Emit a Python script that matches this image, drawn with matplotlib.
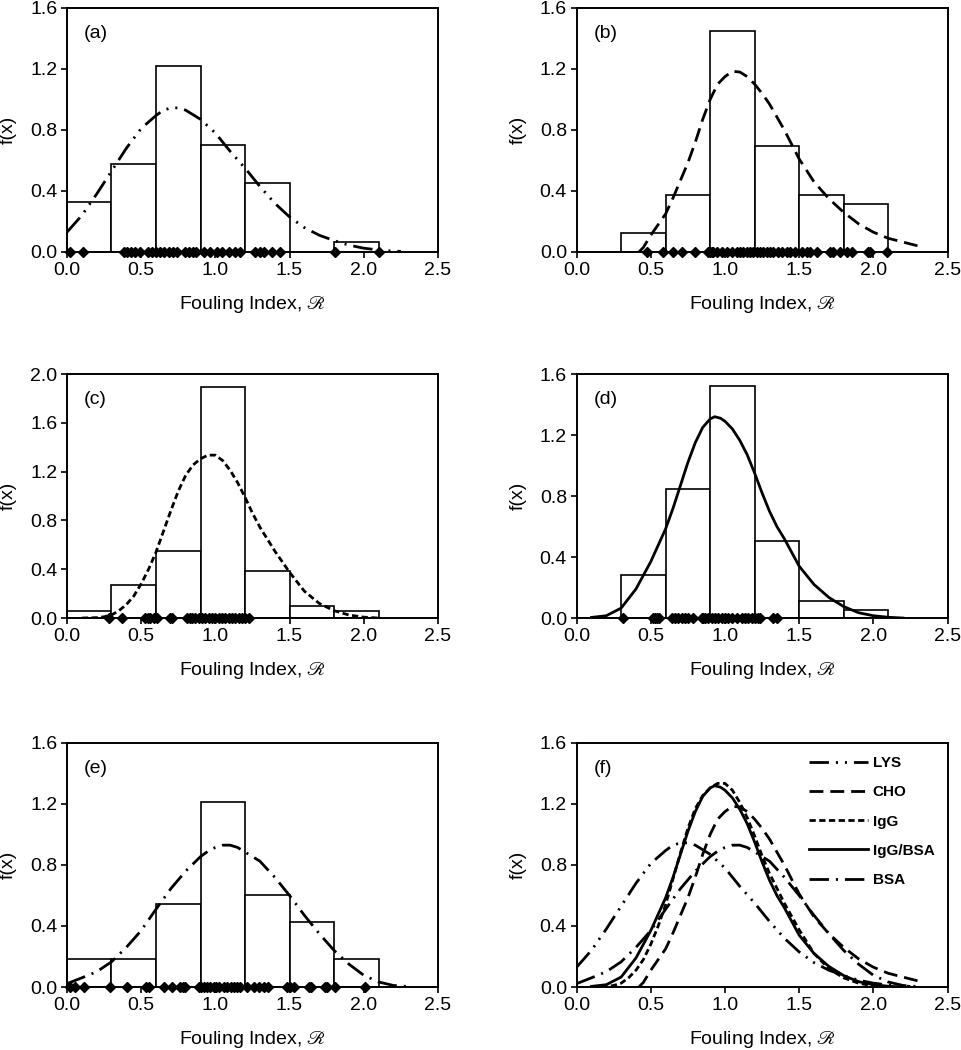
import matplotlib
matplotlib.use("Agg")
import matplotlib.pyplot as plt

plt.rcParams['font.family'] = ['Liberation Sans', 'DejaVu Sans']
plt.rcParams['mathtext.fontset'] = 'stix'
plt.rcParams['lines.scale_dashes'] = False

# histogram bins (density), same edges in every panel
bin_left = [0.0, 0.3, 0.6, 0.9, 1.2, 1.5, 1.8]
bin_width = 0.3

hist_a = [0.325, 0.579, 1.221, 0.704, 0.45, 0.0, 0.066]
hist_b = [0.0, 0.125, 0.377, 1.45, 0.695, 0.377, 0.318]
hist_c = [0.055, 0.274, 0.553, 1.89, 0.384, 0.10, 0.055]
hist_d = [0.0, 0.28, 0.844, 1.524, 0.502, 0.11, 0.05]
hist_e = [0.186, 0.186, 0.544, 1.213, 0.60, 0.425, 0.186]

# fitted density curves
lys_x = [0.0, 0.1, 0.2, 0.3, 0.4, 0.5, 0.6, 0.65, 0.7, 0.75, 0.8, 0.9, 1.0,
         1.1, 1.2, 1.3, 1.4, 1.5, 1.6, 1.7, 1.8, 1.9, 2.0, 2.1, 2.2, 2.25]
lys_y = [0.13, 0.24, 0.38, 0.53, 0.68, 0.81, 0.895, 0.93, 0.945, 0.945, 0.93,
         0.87, 0.78, 0.66, 0.55, 0.43, 0.32, 0.23, 0.16, 0.11, 0.075, 0.045,
         0.025, 0.013, 0.006, 0.004]

cho_x = [0.42, 0.45, 0.5, 0.55, 0.6, 0.65, 0.7, 0.75, 0.8, 0.85, 0.9, 0.95,
         1.0, 1.05, 1.1, 1.15, 1.2, 1.25, 1.3, 1.4, 1.5, 1.6, 1.7, 1.8, 1.9,
         2.0, 2.1, 2.2, 2.3]
cho_y = [0.0, 0.03, 0.11, 0.18, 0.25, 0.355, 0.47, 0.585, 0.72, 0.87, 1.0,
         1.1, 1.15, 1.185, 1.18, 1.15, 1.10, 1.04, 0.97, 0.80, 0.61, 0.46,
         0.35, 0.26, 0.185, 0.13, 0.09, 0.065, 0.04]

igg_x = [0.1, 0.2, 0.25, 0.3, 0.35, 0.4, 0.45, 0.5, 0.55, 0.6, 0.65, 0.7,
         0.75, 0.8, 0.85, 0.9, 0.95, 1.0, 1.05, 1.1, 1.15, 1.2, 1.25, 1.3,
         1.4, 1.5, 1.6, 1.7, 1.8, 1.9, 2.0, 2.1]
igg_y = [0.0, 0.003, 0.01, 0.025, 0.06, 0.11, 0.18, 0.28, 0.40, 0.54, 0.71,
         0.88, 1.04, 1.17, 1.255, 1.305, 1.335, 1.335, 1.29, 1.21, 1.11, 0.99,
         0.86, 0.745, 0.55, 0.375, 0.22, 0.12, 0.06, 0.025, 0.007, 0.0]

iggbsa_x = [0.1, 0.2, 0.3, 0.4, 0.5, 0.6, 0.65, 0.7, 0.75, 0.8, 0.85, 0.9,
            0.93, 0.97, 1.0, 1.05, 1.1, 1.15, 1.2, 1.25, 1.3, 1.35, 1.4, 1.5,
            1.6, 1.7, 1.8, 1.9, 2.0, 2.1, 2.2]
iggbsa_y = [0.004, 0.015, 0.065, 0.19, 0.37, 0.585, 0.72, 0.87, 1.02, 1.15,
            1.25, 1.305, 1.32, 1.31, 1.29, 1.24, 1.165, 1.07, 0.95, 0.82, 0.70,
            0.60, 0.52, 0.34, 0.22, 0.135, 0.075, 0.035, 0.015, 0.005, 0.0]

bsa_x = [0.0, 0.1, 0.2, 0.3, 0.4, 0.5, 0.6, 0.7, 0.8, 0.9, 0.95, 1.0, 1.05,
         1.1, 1.15, 1.2, 1.3, 1.4, 1.5, 1.6, 1.7, 1.8, 1.9, 2.0, 2.1, 2.2, 2.3]
bsa_y = [0.022, 0.06, 0.10, 0.165, 0.26, 0.37, 0.51, 0.645, 0.76, 0.855, 0.89,
         0.915, 0.93, 0.93, 0.915, 0.885, 0.825, 0.72, 0.60, 0.47, 0.35, 0.24,
         0.15, 0.077, 0.033, 0.01, 0.003]

# individual fouling index values (rug at f(x)=0)
pts_a = [0.022, 0.108, 0.382, 0.404, 0.431, 0.461, 0.49, 0.544, 0.573, 0.602,
         0.629, 0.656, 0.685, 0.715, 0.742, 0.798, 0.82, 0.849, 0.872, 0.921,
         0.966, 1.011, 1.045, 1.09, 1.135, 1.169, 1.27, 1.303, 1.33, 1.382,
         1.438, 1.804, 2.101]
pts_b = [0.472, 0.585, 0.652, 0.708, 0.798, 0.888, 0.9, 0.911, 0.922, 0.944,
         0.978, 1.012, 1.045, 1.079, 1.101, 1.124, 1.146, 1.169, 1.191, 1.214,
         1.236, 1.259, 1.281, 1.304, 1.326, 1.36, 1.382, 1.416, 1.439, 1.472,
         1.517, 1.551, 1.574, 1.619, 1.709, 1.731, 1.776, 1.821, 1.855, 1.967,
         1.978, 2.09]
pts_c = [0.281, 0.371, 0.528, 0.544, 0.561, 0.584, 0.607, 0.697, 0.708, 0.809,
         0.827, 0.843, 0.865, 0.888, 0.91, 0.933, 0.955, 0.978, 1.0, 1.022,
         1.045, 1.067, 1.09, 1.112, 1.135, 1.157, 1.18, 1.202, 1.225]
pts_d = [0.315, 0.517, 0.528, 0.544, 0.557, 0.641, 0.663, 0.686, 0.708, 0.731,
         0.753, 0.787, 0.843, 0.854, 0.866, 0.888, 0.911, 0.933, 0.955, 0.978,
         1.0, 1.023, 1.045, 1.079, 1.113, 1.135, 1.158, 1.18, 1.203, 1.225,
         1.236, 1.326, 1.349]
pts_e = [0.022, 0.056, 0.112, 0.288, 0.404, 0.535, 0.551, 0.652, 0.708, 0.764,
         0.782, 0.798, 0.888, 0.903, 0.921, 0.944, 0.966, 0.989, 1.007, 1.022,
         1.056, 1.079, 1.106, 1.124, 1.146, 1.169, 1.213, 1.258, 1.292, 1.326,
         1.353, 1.483, 1.506, 1.528, 1.629, 1.645, 1.742, 1.753, 1.809, 2.011]

# line styles (dash patterns in points)
sty = {
    'LYS': (0, (14, 5, 1.5, 5, 1.5, 5)),
    'CHO': (0, (10, 5)),
    'IgG': (0, (4.5, 2.5)),
    'IgG/BSA': '-',
    'BSA': (0, (14, 5, 1.5, 5)),
}
LW = 2.0
FS = 14

fig = plt.figure(figsize=(9.61, 10.5), dpi=100)

col_left = [0.0697, 0.600]
col_w = 0.386
row_bottom = [0.760, 0.4114, 0.060]
row_h = 0.2324


def style_axes(ax, ymax):
    ax.set_xlim(0, 2.5)
    ax.set_ylim(0, ymax)
    ax.set_xticks([0.0, 0.5, 1.0, 1.5, 2.0, 2.5])
    ax.set_xticklabels(['0.0', '0.5', '1.0', '1.5', '2.0', '2.5'])
    yt = [i * 0.4 for i in range(int(round(ymax / 0.4)) + 1)]
    ax.set_yticks(yt)
    ax.set_yticklabels(['%.1f' % v for v in yt])
    ax.tick_params(direction='out', length=4, width=1.2, labelsize=FS,
                   top=False, right=False, pad=3)
    for s in ax.spines.values():
        s.set_linewidth(1.4)
    ax.set_xlabel(r'Fouling Index, $\mathscr{R}$', fontsize=FS, labelpad=11)
    ax.set_ylabel('f(x)', fontsize=FS)
    ax.yaxis.set_label_coords(-0.135, 0.5)


def hist_panel(ax, heights, cx, cy, key, pts, ymax, tag):
    ax.bar(bin_left, heights, width=bin_width, align='edge', color='white',
           edgecolor='black', linewidth=1.2, zorder=2)
    ax.plot(cx, cy, color='black', linestyle=sty[key], linewidth=LW, zorder=3)
    ax.plot(pts, [0] * len(pts), linestyle='none', marker='D', markersize=5,
            color='black', zorder=4, clip_on=False)
    style_axes(ax, ymax)
    ax.text(0.045, 0.895, tag, transform=ax.transAxes, fontsize=FS,
            va='center', ha='left')


axes = {}
layout = [('a', 0, 0), ('b', 1, 0), ('c', 0, 1), ('d', 1, 1), ('e', 0, 2), ('f', 1, 2)]
for tag, c, r in layout:
    axes[tag] = fig.add_axes([col_left[c], row_bottom[r], col_w, row_h])

hist_panel(axes['a'], hist_a, lys_x, lys_y, 'LYS', pts_a, 1.6, '(a)')
hist_panel(axes['b'], hist_b, cho_x, cho_y, 'CHO', pts_b, 1.6, '(b)')
hist_panel(axes['c'], hist_c, igg_x, igg_y, 'IgG', pts_c, 2.0, '(c)')
hist_panel(axes['d'], hist_d, iggbsa_x, iggbsa_y, 'IgG/BSA', pts_d, 1.6, '(d)')
hist_panel(axes['e'], hist_e, bsa_x, bsa_y, 'BSA', pts_e, 1.6, '(e)')

# (f) all fitted curves together
ax = axes['f']
curves = [('LYS', lys_x, lys_y), ('CHO', cho_x, cho_y), ('IgG', igg_x, igg_y),
          ('IgG/BSA', iggbsa_x, iggbsa_y), ('BSA', bsa_x, bsa_y)]
for name, cx, cy in curves:
    ax.plot(cx, cy, color='black', linestyle=sty[name], linewidth=LW, label=name)
style_axes(ax, 1.6)
ax.text(0.045, 0.895, '(f)', transform=ax.transAxes, fontsize=FS,
        va='center', ha='left')
leg = ax.legend(loc='upper right', bbox_to_anchor=(1.0, 1.0), frameon=False,
                handlelength=3.9, handletextpad=0.3, labelspacing=1.0,
                borderaxespad=0.45, prop={'weight': 'bold', 'size': 11})

fig.savefig('out.png', dpi=100)
